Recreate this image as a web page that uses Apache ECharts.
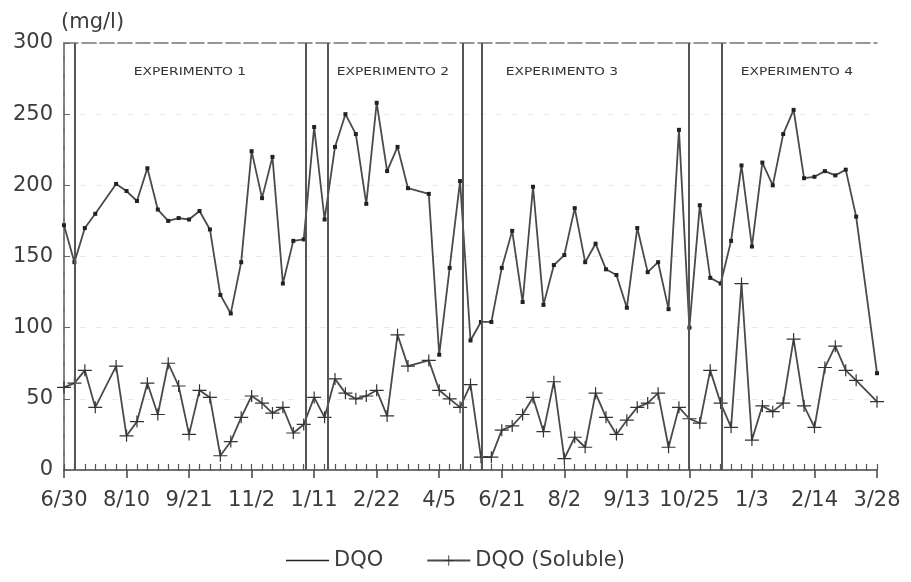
<!DOCTYPE html>
<html>
<head>
<meta charset="utf-8">
<script src="https://cdn.jsdelivr.net/npm/echarts@6/dist/echarts.min.js"></script>
<style>
  html, body { margin: 0; padding: 0; background: #fff; }
  #chart { width: 911px; height: 582px; }
</style>
</head>
<body>
<div id="chart"></div>
<script>
// etiquetas del eje x (una cada 6 semanas)
var weekLabels = ['6/30', '8/10', '9/21', '11/2', '1/11', '2/22', '4/5',
                  '6/21', '8/2', '9/13', '10/25', '1/3', '2/14', '3/28'];

// DQO por semana (null = sin muestra)
var dqo = [172, 146, 170, 180, null, 201, 196, 189, 212, 183,
           175, 177, 176, 182, 169, 123, 110, 146, 224, 191,
           220, 131, 161, 162, 241, 176, 227, 250, 236, 187,
           258, 210, 227, 198, null, 194, 81, 142, 203, 91,
           104, 104, 142, 168, 118, 199, 116, 144, 151, 184,
           146, 159, 141, 137, 114, 170, 139, 146, 113, 239,
           100, 186, 135, 131, 161, 214, 157, 216, 200, 236,
           253, 205, 206, 210, 207, 211, 178, null, 68];

// DQO soluble por semana
var dqoSoluble = [58, 61, 70, 44, null, 73, 24, 34, 61, 39,
                  75, 59, 25, 56, 51, 10, 20, 37, 52, 47,
                  40, 44, 26, 32, 51, 37, 64, 54, 50, 52,
                  56, 38, 95, 73, null, 77, 56, 50, 44, 60,
                  9, 9, 28, 31, 39, 51, 27, 62, 8, 23,
                  16, 54, 37, 25, 35, 44, 47, 54, 16, 44,
                  36, 33, 70, 47, 30, 131, 21, 45, 41, 47,
                  92, 45, 30, 72, 87, 70, 63, null, 48];

// limites de los experimentos (en semanas)
var boundaries = [1, 23.2, 25.3, 38.3, 40.1, 59.9, 63.1];
var experiments = ['EXPERIMENTO 1', 'EXPERIMENTO 2', 'EXPERIMENTO 3', 'EXPERIMENTO 4'];
var experimentX = [190, 393, 562, 797];

var font = 'DejaVu Sans';
var textColor = '#3c3c3c';
var lineColor = '#4a4a4a';

function toPoints(arr) {
  var out = [];
  for (var i = 0; i < arr.length; i++) {
    if (arr[i] !== null) out.push([i, arr[i]]);
  }
  return out;
}

var chart = echarts.init(document.getElementById('chart'));

var option = {
  animation: false,
  backgroundColor: '#fff',
  grid: { left: 64, right: 34, top: 43, bottom: 112 },
  legend: {
    bottom: 6,
    left: 'center',
    itemWidth: 43,
    itemHeight: 13,
    itemGap: 43,
    data: [
      { name: 'DQO', icon: 'path://M0,6H43V7.6H0Z' },
      'DQO (Soluble)'
    ],
    textStyle: { fontFamily: font, fontSize: 21, color: textColor }
  },
  xAxis: [
    {
      type: 'value', position: 'bottom', min: 0, max: 78, interval: 6,
      axisLine: { lineStyle: { color: '#444', width: 1.5 } },
      axisTick: { length: 8, lineStyle: { color: '#444', width: 1.5 } },
      axisLabel: {
        margin: 20, fontFamily: font, fontSize: 21, color: textColor,
        formatter: function (v) { return weekLabels[Math.round(v / 6)]; }
      },
      splitLine: { show: false }
    },
    {
      // marcas semanales
      type: 'value', position: 'bottom', min: 0, max: 78, interval: 1,
      axisLine: { show: false },
      axisTick: { inside: true, length: 6, lineStyle: { color: '#555', width: 1.2 } },
      axisLabel: { show: false },
      splitLine: { show: false }
    },
    {
      type: 'value', position: 'top', min: 0, max: 78,
      axisLine: { lineStyle: { color: '#777', width: 1.5, type: [14, 4] } },
      axisTick: { show: false },
      axisLabel: { show: false },
      splitLine: { show: false }
    }
  ],
  yAxis: [
    {
      type: 'value', min: 0, max: 300, interval: 50,
      name: '(mg/l)',
      nameLocation: 'end',
      nameGap: 10,
      nameTextStyle: { fontFamily: font, fontSize: 21, color: textColor, align: 'left', padding: [0, 0, 0, -3] },
      axisLine: { show: true, lineStyle: { color: '#444', width: 1.5 } },
      axisTick: { show: true, inside: true, length: 6, lineStyle: { color: '#666' } },
      axisLabel: { margin: 11, fontFamily: font, fontSize: 21, color: textColor },
      splitLine: { show: true, lineStyle: { color: '#ebebeb', type: [6, 10] } }
    },
    {
      type: 'value', position: 'right', min: 0, max: 300,
      axisLine: { show: true, lineStyle: { color: '#888', width: 1.5, type: [14, 4] } },
      axisTick: { show: false },
      axisLabel: { show: false },
      splitLine: { show: false }
    }
  ],
  graphic: experiments.map(function (t, i) {
    return {
      type: 'text',
      x: experimentX[i], y: 72,
      scaleX: 1.38,
      silent: true,
      style: {
        text: t,
        font: '10px "DejaVu Sans", sans-serif',
        fill: '#333',
        align: 'center', verticalAlign: 'middle'
      }
    };
  }),
  series: [
    {
      name: 'DQO',
      type: 'line',
      xAxisIndex: 0, yAxisIndex: 0,
      data: toPoints(dqo),
      symbol: 'rect',
      symbolSize: 4,
      itemStyle: { color: '#222' },
      lineStyle: { color: lineColor, width: 1.8 },
      markLine: {
        silent: true,
        symbol: 'none',
        label: { show: false },
        lineStyle: { color: '#555', width: 2, type: 'solid' },
        data: boundaries.map(function (b) { return { xAxis: b }; })
      }
    },
    {
      name: 'DQO (Soluble)',
      type: 'line',
      xAxisIndex: 0, yAxisIndex: 0,
      data: toPoints(dqoSoluble),
      symbol: 'path://M0,5.4H14V6.6H0Z M6.4,0H7.6V12H6.4Z',
      symbolSize: [14, 12],
      itemStyle: { color: '#333' },
      lineStyle: { color: lineColor, width: 1.8 }
    }
  ]
};

chart.setOption(option);
</script>
</body>
</html>
